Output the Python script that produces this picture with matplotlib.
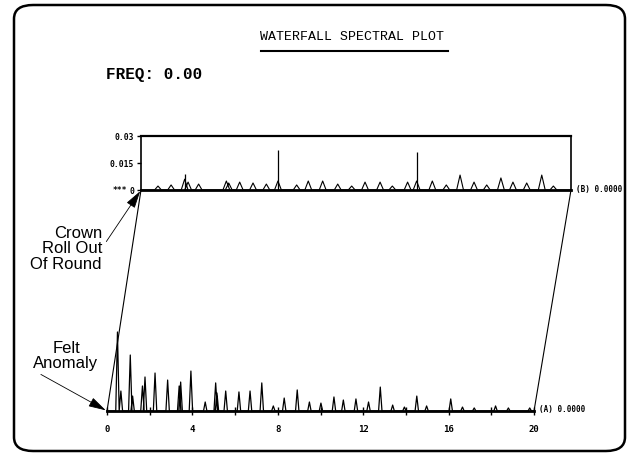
import numpy as np
import matplotlib
matplotlib.use("Agg")
import matplotlib.pyplot as plt
from matplotlib.patches import FancyBboxPatch, ConnectionPatch
from matplotlib.lines import Line2D

# spectrum A (front, offset 0.0000)
freq_a = [0.49, 0.65, 1.09, 1.20, 1.66, 1.78, 2.25, 2.84, 3.38, 3.45, 3.93, 4.60,
          5.09, 5.15, 5.56, 6.18, 6.70, 7.25, 7.79, 8.30, 8.91, 9.48, 10.02, 10.63,
          11.07, 11.66, 12.25, 12.80, 13.38, 13.93, 14.51, 14.97, 16.10, 16.65,
          17.20, 18.20, 18.80, 19.80]
amp_a = [0.0439, 0.0111, 0.0311, 0.0083, 0.0139, 0.0189, 0.0211, 0.0172, 0.0139,
         0.0161, 0.0222, 0.0050, 0.0156, 0.0100, 0.0111, 0.0106, 0.0111, 0.0156,
         0.0028, 0.0072, 0.0117, 0.0050, 0.0044, 0.0078, 0.0061, 0.0067, 0.0050,
         0.0133, 0.0033, 0.0022, 0.0083, 0.0028, 0.0067, 0.0022, 0.0017, 0.0028,
         0.0017, 0.0017]

# spectrum B (back, offset 0.0000)
freq_b = [0.79, 1.40, 2.03, 2.19, 2.68, 3.97, 4.08, 4.59, 5.21, 5.83, 6.37, 7.24,
          7.78, 8.45, 9.15, 9.80, 10.42, 11.12, 11.69, 12.40, 12.82, 13.55, 14.20,
          14.84, 15.49, 16.08, 16.74, 17.30, 17.94, 18.64, 19.18]
amp_b = [0.0022, 0.0028, 0.0060, 0.0044, 0.0033, 0.0050, 0.0039, 0.0044, 0.0039,
         0.0033, 0.0050, 0.0028, 0.0050, 0.0050, 0.0033, 0.0022, 0.0044, 0.0044,
         0.0022, 0.0044, 0.0050, 0.0050, 0.0028, 0.0083, 0.0044, 0.0028, 0.0067,
         0.0044, 0.0039, 0.0083, 0.0022]
spike_freq_b = [2.03, 6.37, 12.82]
spike_amp_b = [0.0089, 0.0222, 0.0211]

x_ticks = [0, 2, 4, 6, 8, 10, 12, 14, 16, 18, 20]
x_labels = ["0", "", "4", "", "8", "", "12", "", "16", "", "20"]
b_ticks = [0, 0.015, 0.03]
b_labels = ["0", "0.015", "0.03"]

W, H = 637, 460
MONO = "DejaVu Sans Mono"


def px(x, y):
    # pixel position (from top-left) -> figure fraction
    return x / W, 1 - y / H


def peaks_to_line(freqs, amps, hw):
    xs, ys = [0.0], [0.0]
    for f, a in sorted(zip(freqs, amps)):
        xs += [f - hw, f, f + hw]
        ys += [0.0, a, 0.0]
    xs.append(20.0)
    ys.append(0.0)
    return xs, ys


fig = plt.figure(figsize=(W / 100, H / 100), dpi=100)

# outer rounded frame
l, b = px(14, 452)
r, t = px(625, 6)
frame = FancyBboxPatch((l, b), r - l, t - b, boxstyle="round,pad=0,rounding_size=0.03",
                       transform=fig.transFigure, fill=False, lw=1.8, ec="black")
fig.add_artist(frame)

# front spectrum axes
l, b = px(107, 412)
ax_a = fig.add_axes([l, b, 427 / W, 90 / H])
xa, ya = peaks_to_line(freq_a, amp_a, 0.08)
ax_a.plot(xa, ya, color="black", lw=0.9)
ax_a.set_xlim(0, 20)
ax_a.set_ylim(0, 0.05)
for s in ["top", "left", "right"]:
    ax_a.spines[s].set_visible(False)
ax_a.spines["bottom"].set_linewidth(2)
ax_a.set_yticks([])
ax_a.set_xticks(x_ticks)
ax_a.set_xticklabels(x_labels, fontfamily=MONO, fontweight="bold", fontsize=6.5)
ax_a.tick_params(axis="x", direction="inout", length=6, width=1, pad=6)
ax_a.patch.set_visible(False)

# back spectrum axes
l, b = px(141, 191)
ax_b = fig.add_axes([l, b, 430 / W, 54 / H])
xb, yb = peaks_to_line(freq_b, amp_b, 0.16)
ax_b.plot(xb, yb, color="black", lw=0.8)
ax_b.vlines(spike_freq_b, 0, spike_amp_b, color="black", lw=0.9)
ax_b.set_xlim(0, 20)
ax_b.set_ylim(0, 0.03)
for s in ax_b.spines.values():
    s.set_linewidth(1.2)
ax_b.spines["bottom"].set_linewidth(2)
ax_b.spines["top"].set_linewidth(1.6)
ax_b.set_xticks([])
ax_b.set_yticks(b_ticks)
ax_b.set_yticklabels(b_labels, fontfamily=MONO, fontweight="bold", fontsize=5.8)
ax_b.tick_params(axis="y", direction="out", length=3, width=1, pad=2)
ax_b.patch.set_visible(False)
ax_b.text(-0.033, 0, "***", transform=ax_b.get_yaxis_transform(), ha="right", va="center",
          fontfamily=MONO, fontweight="bold", fontsize=5.8)

# waterfall connecting lines
for xc in [0, 1]:
    con = ConnectionPatch(xyA=(xc, 0), coordsA=ax_a.transAxes,
                          xyB=(xc, 0), coordsB=ax_b.transAxes, lw=0.8, color="black")
    fig.add_artist(con)

# trace labels
ax_a.text(1.012, 0.03, "(A) 0.0000", transform=ax_a.transAxes, ha="left", va="center",
          fontfamily=MONO, fontweight="bold", fontsize=5.5)
ax_b.text(1.012, 0.03, "(B) 0.0000", transform=ax_b.transAxes, ha="left", va="center",
          fontfamily=MONO, fontweight="bold", fontsize=5.5)

# title and header
x, y = px(352, 37)
fig.text(x, y, "WATERFALL SPECTRAL PLOT", ha="center", va="center",
         fontfamily="Liberation Mono", fontsize=9.5)
x0, y0 = px(261, 52)
x1, _ = px(448, 52)
fig.add_artist(Line2D([x0, x1], [y0, y0], transform=fig.transFigure, color="black", lw=1.5))
x, y = px(106, 75)
fig.text(x, y, "FREQ: 0.00", ha="left", va="center", fontfamily="Liberation Mono",
         fontweight="bold", fontsize=11.5)

# annotations
arrow_style = dict(arrowstyle="-|>,head_length=0.9,head_width=0.25",
                   color="black", lw=0.6, shrinkA=2, shrinkB=1)
x, y = px(102, 249)
ax_b.annotate("Crown\nRoll Out\nOf Round", xy=(0, 0), xycoords="axes fraction",
              xytext=(x, y), textcoords="figure fraction", ha="right", va="center",
              fontfamily="Liberation Sans", fontsize=12, linespacing=1.05,
              arrowprops=dict(relpos=(1.0, 0.5), **arrow_style))
x, y = px(66, 356)
ax_a.annotate("Felt\nAnomaly", xy=(0, 0), xycoords="axes fraction",
              xytext=(x, y), textcoords="figure fraction", ha="center", va="center",
              fontfamily="Liberation Sans", fontsize=12, linespacing=1.05,
              arrowprops=dict(relpos=(0.0, 0.0), **arrow_style))

fig.savefig("out.png", dpi=100)
